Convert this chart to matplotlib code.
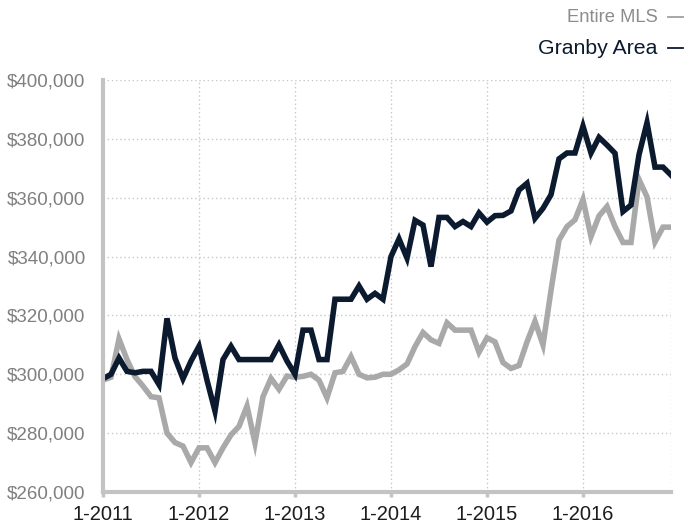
import matplotlib
matplotlib.use("Agg")
import matplotlib.pyplot as plt
import numpy as np

plt.rcParams['font.family'] = ['Liberation Sans', 'DejaVu Sans']

years = ["1-2011", "1-2012", "1-2013", "1-2014", "1-2015", "1-2016"]

granby_area = [
    298.5, 300, 305.5, 301, 300.5, 301, 301, 296.5, 319, 305.5, 298.5, 304.5,
    309.5, 298, 287.5, 305, 309.5, 305, 305, 305, 305, 305, 310, 304.5,
    300, 315, 315, 305, 305, 325.5, 325.5, 325.5, 330, 325.5, 327.5, 325.5,
    340, 346, 339.5, 352.3, 350.7, 336.6, 353.3, 353.3, 350.2, 351.9, 350.2, 354.8,
    351.7, 353.9, 354, 355.5, 362.6, 364.9, 353, 356.4, 361, 373.2, 375.2, 375.2,
    384.3, 375.2, 380.5, 377.9, 375.1, 355.3, 357.5, 374.6, 385.5, 370.4, 370.4, 367.7,
]
entire_mls = [
    298, 299, 312, 305, 299.2, 296, 292.4, 292, 280, 276.8, 275.6, 270,
    275, 275, 270, 275, 279.4, 282.3, 289.2, 276.7, 292.4, 298.6, 294.9, 299.4,
    299, 299.3, 300, 298, 292, 300.5, 301, 306, 300, 298.8, 299, 300,
    300, 301.5, 303.5, 309.4, 314.2, 311.7, 310.5, 317.5, 315, 315, 315, 307.5,
    312.4, 311, 304, 302, 303, 311, 318, 310, 328.5, 345.6, 350.2, 352.5,
    359.4, 346.8, 353.8, 357, 350.2, 344.8, 344.8, 366.2, 360.3, 345, 350, 350,
]

granby = np.array(granby_area) * 1000
mls = np.array(entire_mls) * 1000
months = np.arange(len(granby))

DARK = "#0b1a2f"
GRAY = "#a9a9a9"
AXIS = "#c3c3c3"
GRID = "#c8c8c8"

fig = plt.figure(figsize=(6.89, 5.25), dpi=100)
ax = fig.add_axes([103/689, 1-492/525, (671-103)/689, (492-80)/525])

ax.plot(months, mls, color=GRAY, lw=4.0, solid_joinstyle='miter', zorder=3)
ax.plot(months, granby, color=DARK, lw=4.0, solid_joinstyle='miter', zorder=4)

ax.set_xlim(0, 71)
ax.set_ylim(260000, 400000)
ax.set_yticks(np.arange(260000, 400001, 20000))
ax.set_yticklabels([f"${v:,.0f}" for v in np.arange(260000, 400001, 20000)])
ax.set_xticks(np.arange(0, 72, 12))
ax.set_xticklabels(years)

ax.grid(True, color=GRID, linestyle=(0, (1, 2)), linewidth=1.0, zorder=1)
ax.axvline(71, color=GRID, linestyle=(0, (1, 2)), linewidth=1.0, zorder=1)

for s in ["top", "right"]:
    ax.spines[s].set_visible(False)
for s in ["left", "bottom"]:
    ax.spines[s].set_color(AXIS)
    ax.spines[s].set_linewidth(3)
    ax.spines[s].set_zorder(5)

ax.tick_params(axis='y', length=0, pad=12.5, labelsize=13.5, labelcolor="#7f7f7f")
ax.tick_params(axis='x', length=3.5, width=2.5, color=AXIS, pad=6,
               labelsize=14.5, labelcolor="#1c1c1c")

fig.text(658/689, 1-17/525, "Entire MLS", ha='right', va='center',
         fontsize=13.2, color="#8c8c8c")
fig.text(657/689, 1-48/525, "Granby Area", ha='right', va='center',
         fontsize=15.3, color=DARK)
fig.add_artist(plt.Line2D([668/689, 683/689], [1-17/525, 1-17/525],
                          transform=fig.transFigure, color="#a0a0a0", lw=1.3))
fig.add_artist(plt.Line2D([668/689, 683/689], [1-48/525, 1-48/525],
                          transform=fig.transFigure, color=DARK, lw=1.3))

fig.savefig("out.png", dpi=100)
